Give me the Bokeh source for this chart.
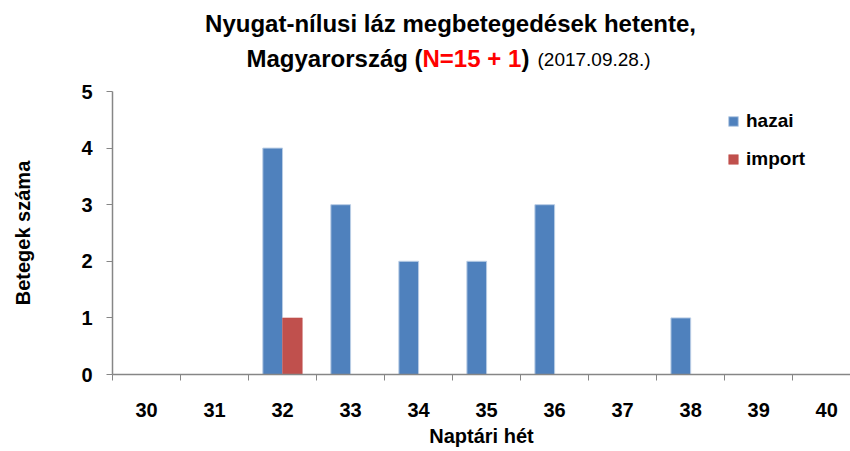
from bokeh.plotting import figure
from bokeh.layouts import column
from bokeh.models import ColumnDataSource, FixedTicker, Legend, LegendItem, Range1d
from bokeh.core.properties import value
from bokeh.transform import dodge
from bokeh.embed import file_html
from bokeh.resources import INLINE

weeks = [30, 31, 32, 33, 34, 35, 36, 37, 38, 39, 40]
week_labels = ["30", "31", "32", "33", "34", "35", "36", "37", "38", "39", "40"]
hazai = [0, 0, 4, 3, 2, 2, 3, 0, 1, 0, 0]
importalt = [0, 0, 1, 0, 0, 0, 0, 0, 0, 0, 0]
y_ticks = [0, 1, 2, 3, 4, 5]

FONT = "Liberation Sans"
AX = "#868686"

# ---- title strip (data x == page x) ----
t = figure(width=850, height=80, output_backend="svg", toolbar_location=None,
           x_range=Range1d(112, 850), y_range=Range1d(80, 0),
           x_axis_type=None, y_axis_type=None,
           min_border_left=112, min_border_right=0, min_border_top=0, min_border_bottom=0)
t.outline_line_color = None
t.xgrid.visible = False
t.ygrid.visible = False

def tt(txt, x, y, color="black", size="24px", style="bold", align="left"):
    t.text(x=[x], y=[y], text=[txt], text_font=value(FONT), text_font_style=style,
           text_font_size=size, text_color=color, text_baseline="middle", text_align=align)

tt("Nyugat-nílusi láz megbetegedések hetente,", 450, 23, align="center")
tt("Magyarország (", 246, 58)
tt("N=15 + 1", 422, 58, color="#FF0000")
tt(")", 521, 58)
tt("(2017.09.28.)", 537, 59, size="19px", style="normal")

# ---- main chart ----
src = ColumnDataSource(dict(week=weeks, hazai=hazai, imp=importalt))

p = figure(width=850, height=370, output_backend="svg", toolbar_location=None,
           x_range=(29.5, 40.35), y_range=(0, 5),
           min_border_left=112, min_border_right=0, min_border_top=11, min_border_bottom=76)
p.outline_line_color = None
p.xgrid.visible = False
p.ygrid.visible = False

r1 = p.vbar(x=dodge("week", -0.145, range=p.x_range), top="hazai", width=0.29, source=src,
            fill_color="#4F81BD", line_color="#B9CDE5", line_width=1)
r2 = p.vbar(x=dodge("week", 0.145, range=p.x_range), top="imp", width=0.29, source=src,
            fill_color="#C0504D", line_color="#C0504D", line_width=0.5)

p.xaxis.ticker = FixedTicker(ticks=weeks, minor_ticks=[w - 0.5 for w in weeks] + [40.5])
p.xaxis.major_label_overrides = {w: l for w, l in zip(weeks, week_labels)}
p.xaxis.major_tick_out = 0
p.xaxis.major_tick_in = 0
p.xaxis.minor_tick_out = 6
p.xaxis.minor_tick_in = 0
p.xaxis.minor_tick_line_color = AX
p.xaxis.axis_line_color = AX
p.xaxis.axis_line_width = 1.5
p.xaxis.major_label_standoff = 22
p.xaxis.axis_label = "Naptári hét"
p.xaxis.axis_label_standoff = 5

p.yaxis.ticker = FixedTicker(ticks=y_ticks, minor_ticks=[])
p.yaxis.major_tick_out = 6
p.yaxis.major_tick_in = 0
p.yaxis.major_tick_line_color = AX
p.yaxis.axis_line_color = AX
p.yaxis.axis_line_width = 1.5
p.yaxis.major_label_standoff = 14
p.yaxis.axis_label = "Betegek száma"
p.yaxis.axis_label_standoff = 44

for ax in (p.xaxis, p.yaxis):
    ax.major_label_text_font = FONT
    ax.major_label_text_font_style = "bold"
    ax.major_label_text_font_size = "20px"
    ax.major_label_text_color = "black"
    ax.axis_label_text_font = FONT
    ax.axis_label_text_font_style = "bold"
    ax.axis_label_text_font_size = "20px"
    ax.axis_label_text_color = "black"

legend = Legend(items=[LegendItem(label="hazai", renderers=[r1]),
                       LegendItem(label="import", renderers=[r2])],
                location=(615, 204), orientation="vertical")
legend.background_fill_alpha = 0
legend.border_line_color = None
legend.label_text_font = FONT
legend.label_text_font_style = "bold"
legend.label_text_font_size = "19px"
legend.label_text_color = "black"
legend.glyph_width = 12
legend.glyph_height = 12
legend.label_height = 20
legend.spacing = 16
legend.label_standoff = 7
legend.padding = 0
legend.margin = 0
p.add_layout(legend, "center")

layout = column(t, p)
open("out.html", "w").write(file_html(layout, INLINE))
